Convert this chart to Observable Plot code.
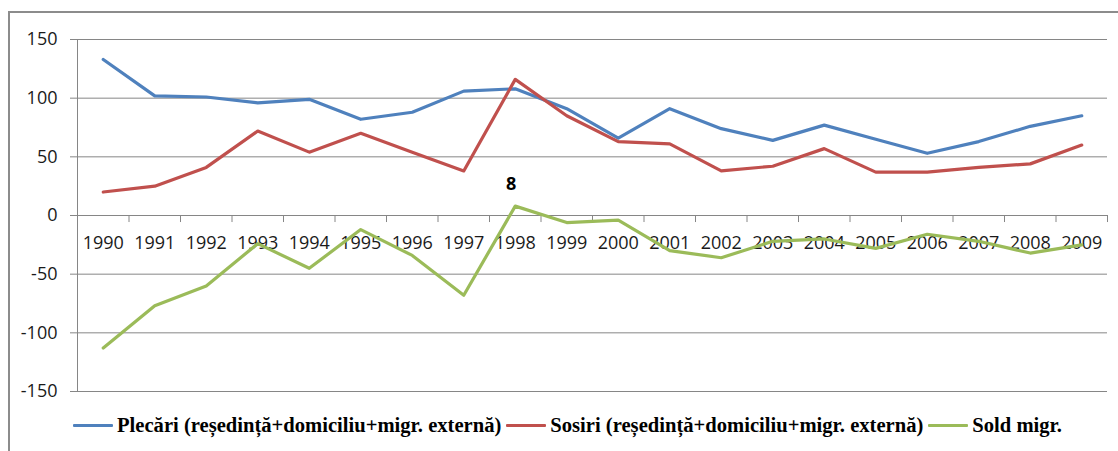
<!DOCTYPE html>
<html><head><meta charset="utf-8">
<script src="https://cdn.jsdelivr.net/npm/d3@7"></script>
<script src="https://cdn.jsdelivr.net/npm/@observablehq/plot@0.6"></script>
<style>
body{margin:0;background:#fff;width:1118px;height:451px;overflow:hidden;position:relative;font-family:"Open Sans",sans-serif}
#frame{position:absolute;left:8px;top:11px;width:1200px;height:600px;border-left:2px solid #8c8c8c;border-top:2px solid #8c8c8c}
#chart{position:absolute;left:0;top:0}
#legend{position:absolute;left:73px;top:414px;display:flex;align-items:center;font-family:"Liberation Serif","Times New Roman",serif;font-weight:bold;font-size:20.6px;white-space:nowrap;color:#000}
.sw{display:inline-block;width:40px;height:3px;margin-right:4px;border-radius:1px}
.item{display:flex;align-items:center;margin-right:5px}
</style></head><body>
<div id="frame"></div>
<div id="chart"></div>
<div id="legend"></div>
<script>
const years = ["1990","1991","1992","1993","1994","1995","1996","1997","1998","1999","2000","2001","2002","2003","2004","2005","2006","2007","2008","2009"];
const plecari = [133,102,101,96,99,82,88,106,108,91,66,91,74,64,77,65,53,63,76,85];
const sosiri = [20,25,41,72,54,70,54,38,116,85,63,61,38,42,57,37,37,41,44,60];
const sold = [-113,-77,-60,-24,-45,-12,-34,-68,8,-6,-4,-30,-36,-22,-20,-28,-16,-22,-32,-25];
const yTicks = [-150,-100,-50,0,50,100,150];
const seriesNames = ["Plecări (reședință+domiciliu+migr. externă)","Sosiri (reședință+domiciliu+migr. externă)","Sold migr."];
const colors = ["#4F81BD","#C0504D","#9BBB59"];
const labelledYear = "1998";

const series = [plecari, sosiri, sold];
const boundaries = d3.range(0, years.length + 1);
const grid = "#868686";

const lineMarks = series.map((s, k) => Plot.line(s, {
  x: (d, i) => i + 0.5, y: d => d, stroke: colors[k], strokeWidth: 3.2,
  strokeLinejoin: "round", strokeLinecap: "round"
}));

const labelData = sold.map((v, i) => ({i, v})).filter(d => years[d.i] === labelledYear);

const chart = Plot.plot({
  width: 1118, height: 405,
  marginLeft: 77, marginRight: 11, marginTop: 39, marginBottom: 14,
  style: {fontFamily: "Open Sans", fontSize: "18px", background: "transparent", overflow: "visible", color: "#1a1a1a"},
  x: {type: "linear", domain: [0, years.length], axis: null},
  y: {domain: [-150, 150]},
  marks: [
    Plot.ruleY(yTicks, {stroke: grid, strokeWidth: 1}),
    Plot.axisY({ticks: yTicks, tickFormat: d => String(d), tickSize: 7, tickPadding: 13, label: null, stroke: grid, fill: "#1a1a1a", fontSize: 18}),
    Plot.ruleX([0], {y1: -150, y2: 150, stroke: grid}),
    Plot.ruleX(boundaries, {x: d => d, y1: 0, y2: -6, stroke: grid}),
    Plot.text(years, {x: (d, i) => i + 0.5, y: () => 0, dy: 28, text: d => d, fill: "#1a1a1a", fontSize: 18}),
    ...lineMarks,
    Plot.text(labelData, {x: d => d.i + 0.5, y: d => d.v, text: d => String(d.v), dy: -22, dx: -4, fontWeight: "bold", fontSize: 18, fill: "#000"})
  ]
});
document.getElementById("chart").appendChild(chart);

const legend = document.getElementById("legend");
seriesNames.forEach((name, k) => {
  const item = document.createElement("span");
  item.className = "item";
  const sw = document.createElement("span");
  sw.className = "sw";
  sw.style.background = colors[k];
  const t = document.createElement("span");
  t.textContent = name;
  item.appendChild(sw); item.appendChild(t);
  legend.appendChild(item);
});
</script>
</body></html>
